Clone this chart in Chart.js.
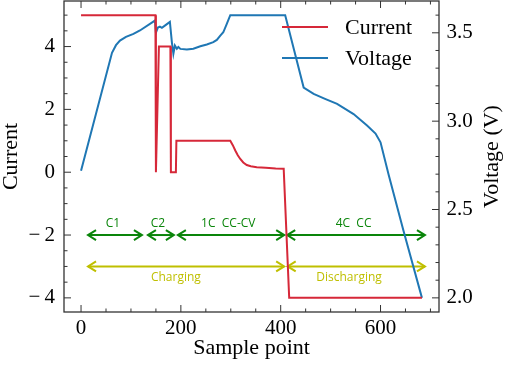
<!DOCTYPE html>
<html>
<head>
<meta charset="utf-8">
<script src="https://cdn.jsdelivr.net/npm/chart.js@4.4.0/dist/chart.umd.min.js"></script>
<style>
  html, body { margin: 0; padding: 0; background: #fff; }
  #wrap { width: 505px; height: 367px; }
</style>
</head>
<body>
<div id="wrap"><canvas id="cycleChart" width="505" height="367"></canvas></div>
<script>
// Current trace (left axis)
const currentX = [0, 149, 150, 156, 179, 180, 190, 191, 299, 304, 309, 314, 319, 325, 332, 340, 352, 370, 390, 406, 417, 683];
const currentY = [5, 5, 0, 4, 4, 0, 0, 1, 1, 0.86, 0.69, 0.54, 0.42, 0.31, 0.23, 0.19, 0.16, 0.14, 0.12, 0.11, -4, -4];

// Voltage trace (right axis)
const voltageX = [0, 62, 70, 78, 90, 105, 118, 148, 150, 154, 158, 162, 170, 178, 182, 185, 188, 192, 195, 199, 212, 225, 239, 252, 265, 272, 279, 285, 292, 299, 409, 446, 466, 490, 513, 546, 573, 590, 600, 616, 646, 683];
const voltageY = [2.72, 3.387, 3.43, 3.456, 3.477, 3.494, 3.513, 3.569, 3.50, 3.53, 3.535, 3.528, 3.545, 3.562, 3.446, 3.381, 3.428, 3.41, 3.42, 3.409, 3.405, 3.41, 3.424, 3.434, 3.447, 3.46, 3.484, 3.503, 3.55, 3.6, 3.6, 3.19, 3.154, 3.125, 3.098, 3.04, 2.975, 2.93, 2.88, 2.7, 2.38, 2.0];

const xTicks = [0, 200, 400, 600];
const currentTicks = [-4, -2, 0, 2, 4];
const voltageTicks = [2.0, 2.5, 3.0, 3.5];

// step arrows at current = -2
const stepLabels = ['C1', 'C2', '1C  CC-CV', '4C  CC'];
const stepStart = [12, 132, 192, 411];
const stepEnd = [124, 188, 409, 691];
const stepLabelX = [64, 154, 295, 546];

// mode arrows at current = -3
const modeLabels = ['Charging', 'Discharging'];
const modeStart = [12, 412];
const modeEnd = [409, 691];
const modeLabelX = [190, 537];

const colors = {
    current: '#d62839',
    voltage: '#1f77b4',
    step: '#0a850a',
    mode: '#bfbf00',
    axis: '#333333'
};

const serif = '"Liberation Serif", "DejaVu Serif", serif';

function fmtSigned(v) {
    return v < 0 ? '\u2212\u2009' + Math.abs(v) : String(v);
}

// no extra room for half tick labels, the frame sits at the canvas edge
function noPad(s) {
    s.paddingTop = 0;
    s.paddingBottom = 0;
    s.paddingLeft = 0;
    s.paddingRight = 0;
}

function drawArrow(ctx, x1, x2, y, color) {
    const head = 9, half = 5;
    ctx.save();
    ctx.strokeStyle = color;
    ctx.lineWidth = 2;
    ctx.beginPath();
    ctx.moveTo(x1 + 1, y);
    ctx.lineTo(x2 - 1, y);
    ctx.stroke();
    ctx.beginPath();
    ctx.moveTo(x1 + head, y - half);
    ctx.lineTo(x1 + 1, y);
    ctx.lineTo(x1 + head, y + half);
    ctx.moveTo(x2 - head, y - half);
    ctx.lineTo(x2 - 1, y);
    ctx.lineTo(x2 - head, y + half);
    ctx.stroke();
    ctx.restore();
}

const annotations = {
    id: 'annotations',
    beforeDatasetsDraw(chart) {
        const ctx = chart.ctx;
        const xs = chart.scales.x, ys = chart.scales.y;
        ctx.save();
        ctx.font = '12px "Open Sans", sans-serif';
        ctx.textAlign = 'center';
        ctx.textBaseline = 'middle';
        stepLabels.forEach((lab, i) => {
            drawArrow(ctx, xs.getPixelForValue(stepStart[i]), xs.getPixelForValue(stepEnd[i]), ys.getPixelForValue(-2), colors.step);
            ctx.fillStyle = colors.step;
            ctx.fillText(lab, xs.getPixelForValue(stepLabelX[i]), ys.getPixelForValue(-1.65));
        });
        modeLabels.forEach((lab, i) => {
            drawArrow(ctx, xs.getPixelForValue(modeStart[i]), xs.getPixelForValue(modeEnd[i]), ys.getPixelForValue(-3), colors.mode);
            ctx.fillStyle = colors.mode;
            ctx.fillText(lab, xs.getPixelForValue(modeLabelX[i]), ys.getPixelForValue(-3.35));
        });
        ctx.restore();
    },
    afterDraw(chart) {
        const ctx = chart.ctx;
        const a = chart.chartArea;
        const xs = chart.scales.x, ys = chart.scales.y, vs = chart.scales.y1;
        ctx.save();
        // frame
        ctx.strokeStyle = colors.axis;
        ctx.lineWidth = 1.3;
        ctx.strokeRect(a.left, a.top, a.right - a.left, a.bottom - a.top);

        // inward ticks
        ctx.lineWidth = 1;
        ctx.beginPath();
        for (let v = 0; v <= 700; v += 50) {
            const px = xs.getPixelForValue(v);
            const len = v % 200 === 0 ? 7 : 3.5;
            ctx.moveTo(px, a.bottom); ctx.lineTo(px, a.bottom - len);
            ctx.moveTo(px, a.top); ctx.lineTo(px, a.top + len);
        }
        for (let k = -8; k <= 10; k++) {
            const py = ys.getPixelForValue(k / 2);
            const len = k % 4 === 0 ? 7 : 3.5;
            ctx.moveTo(a.left, py); ctx.lineTo(a.left + len, py);
        }
        for (let k = 20; k <= 36; k++) {
            const py = vs.getPixelForValue(k / 10);
            const len = k % 5 === 0 ? 7 : 3.5;
            ctx.moveTo(a.right, py); ctx.lineTo(a.right - len, py);
        }
        ctx.stroke();

        // legend
        ctx.font = '22px ' + serif;
        ctx.textAlign = 'left';
        ctx.textBaseline = 'middle';
        chart.data.datasets.forEach((ds, i) => {
            const y = 27 + i * 31;
            ctx.strokeStyle = ds.borderColor;
            ctx.lineWidth = 2;
            ctx.beginPath();
            ctx.moveTo(282, y);
            ctx.lineTo(328, y);
            ctx.stroke();
            ctx.fillStyle = '#000';
            ctx.fillText(ds.label, 345, y + 1);
        });

        // right axis title, reads bottom to top
        ctx.translate(492, (a.top + a.bottom) / 2);
        ctx.rotate(-Math.PI / 2);
        ctx.textAlign = 'center';
        ctx.fillText('Voltage (V)', 0, 0);
        ctx.restore();
    }
};

const ctx = document.getElementById('cycleChart');
new Chart(ctx, {
    type: 'line',
    data: {
        datasets: [
            {
                label: 'Current',
                data: currentX.map((x, i) => ({ x: x, y: currentY[i] })),
                borderColor: colors.current,
                borderWidth: 2,
                pointRadius: 0,
                tension: 0,
                yAxisID: 'y'
            },
            {
                label: 'Voltage',
                data: voltageX.map((x, i) => ({ x: x, y: voltageY[i] })),
                borderColor: colors.voltage,
                borderWidth: 2,
                pointRadius: 0,
                tension: 0,
                yAxisID: 'y1'
            }
        ]
    },
    options: {
        responsive: false,
        animation: false,
        layout: { padding: { top: 1, left: 0, right: 0, bottom: 0 } },
        plugins: { legend: { display: false }, tooltip: { enabled: false } },
        scales: {
            x: {
                type: 'linear',
                position: 'bottom',
                min: -34.15,
                max: 717.15,
                grid: { display: false, drawTicks: false },
                border: { display: false },
                afterBuildTicks: s => { s.ticks = xTicks.map(v => ({ value: v })); },
                afterFit: s => { s.height = 55; noPad(s); },
                ticks: {
                    padding: 4,
                    color: '#000',
                    font: { family: serif, size: 21 },
                    callback: v => String(v)
                },
                title: {
                    display: true,
                    text: 'Sample point',
                    color: '#000',
                    font: { family: serif, size: 22 },
                    padding: { top: 0, bottom: 6 }
                }
            },
            y: {
                type: 'linear',
                position: 'left',
                min: -4.45,
                max: 5.45,
                grid: { display: false, drawTicks: false },
                border: { display: false },
                afterBuildTicks: s => { s.ticks = currentTicks.map(v => ({ value: v })); },
                afterFit: s => { s.width = 64; noPad(s); },
                ticks: {
                    padding: 9,
                    color: '#000',
                    font: { family: serif, size: 21 },
                    callback: v => fmtSigned(v)
                },
                title: {
                    display: true,
                    text: 'Current',
                    color: '#000',
                    font: { family: serif, size: 22, lineHeight: 1 },
                    padding: { top: 0, bottom: 0 }
                }
            },
            y1: {
                type: 'linear',
                position: 'right',
                min: 1.92,
                max: 3.68,
                grid: { display: false, drawTicks: false },
                border: { display: false },
                afterBuildTicks: s => { s.ticks = voltageTicks.map(v => ({ value: v })); },
                afterFit: s => { s.width = 66; noPad(s); },
                ticks: {
                    padding: 7.5,
                    color: '#000',
                    font: { family: serif, size: 21 },
                    callback: v => v.toFixed(1)
                }
            }
        }
    },
    plugins: [annotations]
});
</script>
</body>
</html>
